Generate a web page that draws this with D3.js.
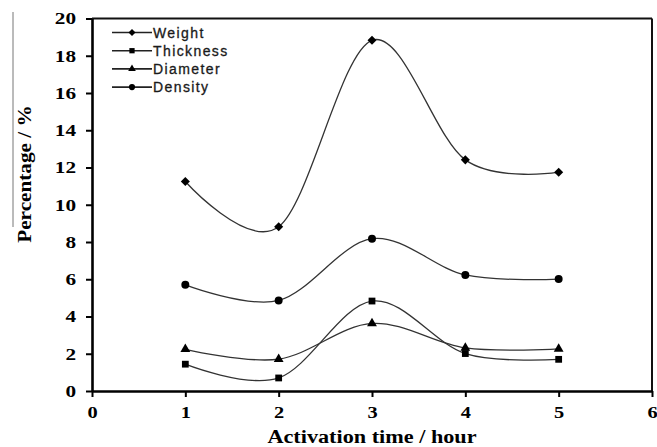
<!DOCTYPE html>
<html>
<head>
<meta charset="utf-8">
<script src="https://cdn.jsdelivr.net/npm/d3@7"></script>
<style>
  body { margin: 0; background: #fff; }
  svg { display: block; }
</style>
</head>
<body>
<svg width="657" height="447"></svg>
<script>
// values
const hours = [1, 2, 3, 4, 5];
const weight = [11.25, 8.82, 18.83, 12.41, 11.75];
const thickness = [1.44, 0.70, 4.83, 2.01, 1.70];
const diameter = [2.24, 1.71, 3.63, 2.31, 2.26];
const density = [5.70, 4.86, 8.18, 6.23, 6.01];
const seriesNames = ["Weight", "Thickness", "Diameter", "Density"];
const xTicks = [0, 1, 2, 3, 4, 5, 6];
const yTicks = [0, 2, 4, 6, 8, 10, 12, 14, 16, 18, 20];

const svg = d3.select("svg");
const margin = { left: 92, right: 5, top: 18.5, bottom: 56 };
const width = +svg.attr("width") - margin.left - margin.right;
const height = +svg.attr("height") - margin.top - margin.bottom;

const g = svg.append("g")
  .attr("transform", "translate(" + margin.left + "," + margin.top + ")");

const x = d3.scaleLinear().domain([0, 6]).range([0, width]);
const y = d3.scaleLinear().domain([0, 20]).range([height, 0]);

const diamond = d3.symbolDiamond2 || d3.symbolDiamond;
const symbols = [diamond, d3.symbolSquare, d3.symbolTriangle, d3.symbolCircle];
const sizes = [52, 46, 42, 50];
const lineColor = "#333";

// frame (top + right)
g.append("line")
  .attr("x1", x(0)).attr("x2", x(6))
  .attr("y1", y(20)).attr("y2", y(20))
  .attr("stroke", "#111").attr("stroke-width", 2);
g.append("line")
  .attr("x1", x(6)).attr("x2", x(6))
  .attr("y1", y(20)).attr("y2", y(0))
  .attr("stroke", "#111").attr("stroke-width", 2);

// axes
const xAxis = g.append("g")
  .attr("transform", "translate(0," + height + ")")
  .call(d3.axisBottom(x).tickValues(xTicks).tickFormat(d3.format("d"))
    .tickSize(6).tickSizeOuter(0).tickPadding(9));
const yAxis = g.append("g")
  .call(d3.axisLeft(y).tickValues(yTicks).tickFormat(d3.format("d"))
    .tickSize(6).tickSizeOuter(0).tickPadding(9));

[xAxis, yAxis].forEach(function(a) {
  a.select(".domain").attr("stroke", "#000").attr("stroke-width", 2.6);
  a.selectAll(".tick line").attr("stroke", "#000").attr("stroke-width", 2);
  a.selectAll(".tick text")
    .attr("font-family", "'Liberation Serif', 'Times New Roman', serif")
    .attr("font-weight", "bold")
    .attr("font-size", "17px")
    .attr("fill", "#000");
});
yAxis.selectAll(".tick text")
  .attr("x", -16 / 1.25)
  .attr("transform", "scale(1.25,1)");
xAxis.selectAll(".tick text")
  .attr("transform", "scale(1.2,1)");

// series
const allSeries = [weight, thickness, diameter, density];
const line = d3.line()
  .x(function(d, i) { return x(hours[i]); })
  .y(function(d) { return y(d); })
  .curve(d3.curveCatmullRom.alpha(0));

allSeries.forEach(function(vals, s) {
  g.append("path")
    .datum(vals)
    .attr("fill", "none")
    .attr("stroke", lineColor)
    .attr("stroke-width", 1.3)
    .attr("d", line);

  g.selectAll(".m" + s)
    .data(vals)
    .enter()
    .append("path")
    .attr("class", "m" + s)
    .attr("transform", function(d, i) {
      return "translate(" + x(hours[i]) + "," + y(d) + ")";
    })
    .attr("d", d3.symbol().type(symbols[s]).size(sizes[s]))
    .attr("fill", "#000");
});

// legend
const legend = g.append("g").attr("transform", "translate(20,14)");
seriesNames.forEach(function(name, s) {
  const row = legend.append("g").attr("transform", "translate(0," + (s * 18.2) + ")");
  row.append("line")
    .attr("x1", 0).attr("x2", 40)
    .attr("stroke", "#222").attr("stroke-width", 1.6);
  row.append("path")
    .attr("transform", "translate(20,0)")
    .attr("d", d3.symbol().type(symbols[s]).size(sizes[s] * 0.6))
    .attr("fill", "#000");
  row.append("text")
    .attr("x", 41)
    .attr("dy", "0.36em")
    .attr("font-family", "'Liberation Sans', Arial, sans-serif")
    .attr("font-size", "14px")
    .attr("letter-spacing", "1.4px")
    .attr("fill", "#1a1a1a")
    .attr("stroke", "#1a1a1a")
    .attr("stroke-width", 0.3)
    .text(name);
});

// axis titles
svg.append("text")
  .attr("transform", "translate(372,443) scale(1.17,1)")
  .attr("text-anchor", "middle")
  .attr("font-family", "'Liberation Serif', 'Times New Roman', serif")
  .attr("font-weight", "bold")
  .attr("font-size", "19px")
  .text("Activation time / hour");

svg.append("line")
  .attr("x1", 13).attr("x2", 13)
  .attr("y1", 12).attr("y2", 227)
  .attr("stroke", "#777").attr("stroke-width", 1);

svg.append("text")
  .attr("transform", "translate(31,174) rotate(-90) scale(1.18,1)")
  .attr("text-anchor", "middle")
  .attr("font-family", "'Liberation Serif', 'Times New Roman', serif")
  .attr("font-weight", "bold")
  .attr("font-size", "18px")
  .text("Percentage / %");
</script>
</body>
</html>
